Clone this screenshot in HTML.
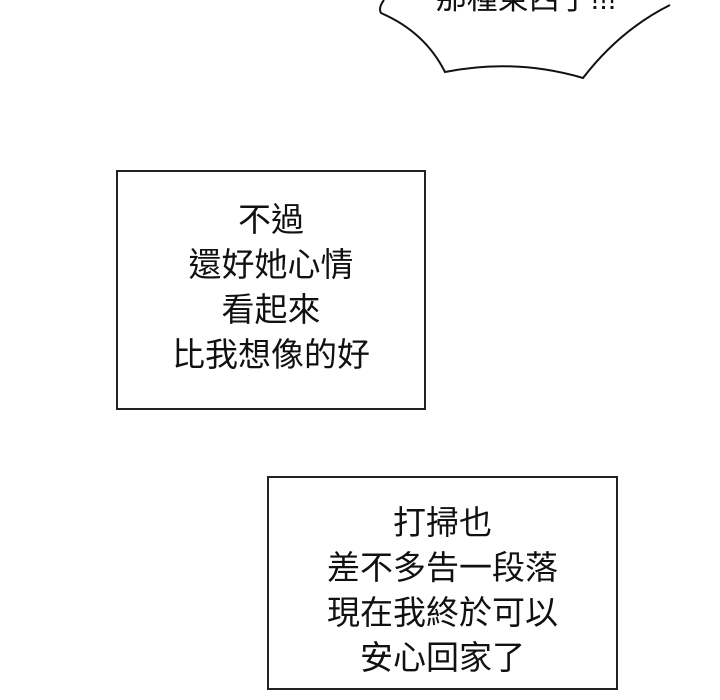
<!DOCTYPE html>
<html><head><meta charset="utf-8"><style>
body{margin:0;width:720px;height:700px;background:#fff;position:relative;overflow:hidden;font-family:"Liberation Sans","Noto Sans CJK TC",sans-serif;}
.box{position:absolute;border:2px solid #222;box-sizing:border-box;text-align:center;color:#111;font-size:33px;line-height:45px;}
</style></head><body>
<svg width="720" height="700" style="position:absolute;left:0;top:0">
<path d="M384,0 Q378,8 381,13 Q425,32 445,72 Q515,58 583,78 Q620,30 670,5" fill="#fff" stroke="#111" stroke-width="2"/>
<text x="526" y="9" font-size="31" text-anchor="middle" fill="#111" font-family="Liberation Sans, Noto Sans CJK TC, sans-serif">那種東西了!!!</text>
</svg>
<div class="box" style="left:116px;top:170px;width:310px;height:240px;padding-top:25px;">不過<br>還好她心情<br>看起來<br>比我想像的好</div>
<div class="box" style="left:267px;top:476px;width:351px;height:214px;padding-top:22px;">打掃也<br>差不多告一段落<br>現在我終於可以<br>安心回家了</div>
</body></html>
